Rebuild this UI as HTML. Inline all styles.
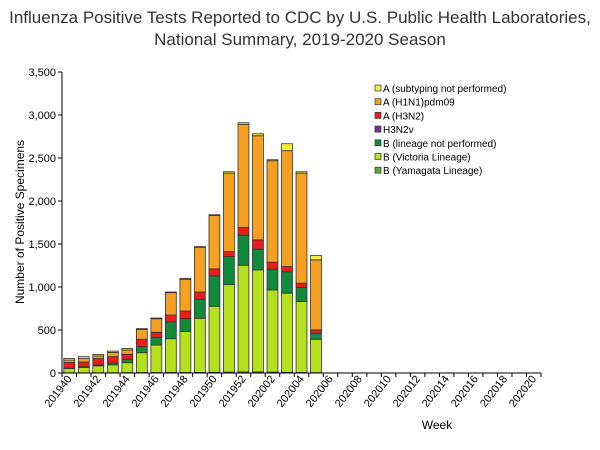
<!DOCTYPE html>
<html><head><meta charset="utf-8"><style>
body{margin:0;background:#fff;}
svg{display:block;font-family:"Liberation Sans",sans-serif;}
</style></head><body>
<svg id="chart" width="600" height="450">
<text x="300" y="23" text-anchor="middle" font-size="17" fill="#333">Influenza Positive Tests Reported to CDC by U.S. Public Health Laboratories,</text>
<text x="300" y="45" text-anchor="middle" font-size="17" fill="#333">National Summary, 2019-2020 Season</text>
<text transform="translate(24,222) rotate(-90)" text-anchor="middle" font-size="12" fill="#000">Number of Positive Specimens</text>
<text x="437" y="429" text-anchor="middle" font-size="12" fill="#000">Week</text>
<g id="grid"></g><g id="bars"></g><g id="axes"></g><g id="legend"></g>
</svg>
<script>
const weeks=["201940","201941","201942","201943","201944","201945","201946","201947","201948","201949","201950","201951","201952","202001","202002","202003","202004","202005","202006","202007","202008","202009","202010","202011","202012","202013","202014","202015","202016","202017","202018","202019","202020"];
const yamagata=[2,2,3,3,4,5,5,6,6,7,8,10,12,12,10,8,6,4];
const victoria=[50,63,80,92,116,231,320,393,478,629,768,1018,1241,1187,956,920,825,388];
const bNotPerf=[5,8,10,20,40,70,90,194,148,221,353,326,350,241,241,248,163,70];
const h3n2v=[0,0,0,0,0,0,0,0,0,0,0,0,0,0,0,0,0,0];
const h3n2=[66,55,75,75,58,86,58,81,89,85,82,58,89,108,82,62,50,39];
const h1n1=[27,40,30,50,50,116,158,260,369,520,621,912,1200,1211,1179,1347,1280,815];
const aUnsub=[19,22,18,15,16,8,8,8,11,8,8,16,18,23,12,81,16,50];
const yTicks=[0,500,1000,1500,2000,2500,3000,3500];
const yTickLabels=["0","500","1,000","1,500","2,000","2,500","3,000","3,500"];
const seriesNames=["A (subtyping not performed)","A (H1N1)pdm09","A (H3N2)","H3N2v","B (lineage not performed)","B (Victoria Lineage)","B (Yamagata Lineage)"];
const NS="http://www.w3.org/2000/svg";
const X0=62,X1=541,Y0=373,Y1=72,YMAX=3500;
const slot=(X1-X0)/weeks.length;
const y=v=>Y0-(v/YMAX)*(Y0-Y1);
const x=i=>X0+i*slot;
function mk(t,a,p){const e=document.createElementNS(NS,t);for(const k in a)e.setAttribute(k,a[k]);p.appendChild(e);return e;}
const colors=["#f5ef3d","#f5a020","#ec1c1c","#7030a0","#128a3c","#b4e01c","#5fa82a"];
const stack=[yamagata,victoria,bNotPerf,h3n2v,h3n2,h1n1,aUnsub];
const stackColors=[colors[6],colors[5],colors[4],colors[3],colors[2],colors[1],colors[0]];
const stackNames=["yamagata","victoria","b-not-performed","h3n2v","h3n2","h1n1","a-unsubtyped"];
const bars=document.getElementById('bars');
for(let i=0;i<yamagata.length;i++){
  let cum=0;
  for(let s=0;s<stack.length;s++){
    const v=stack[s][i];if(!v){continue;}
    const r=mk('rect',{x:x(i)+1.8,y:y(cum+v),width:slot-3.6,height:y(cum)-y(cum+v),fill:stackColors[s],stroke:"#333","stroke-width":0.8},bars);
    
    
    cum+=v;
  }
}
const axes=document.getElementById('axes');
const ya=mk('line',{x1:X0,y1:Y1,x2:X0,y2:Y0,stroke:"#000","stroke-width":1},axes);


const xa=mk('line',{x1:X0,y1:Y0,x2:X1,y2:Y0,stroke:"#000","stroke-width":1},axes);


yTicks.forEach((t,k)=>{
  mk('line',{x1:X0-4,y1:y(t),x2:X0,y2:y(t),stroke:"#000"},axes);
  const tx=mk('text',{x:X0-6,y:y(t)+4,"text-anchor":"end","font-size":11},axes);
  tx.textContent=yTickLabels[k];
  
  
});
weeks.forEach((w,i)=>{
  mk('line',{x1:x(i),y1:Y0,x2:x(i),y2:Y0+4,stroke:"#000"},axes);
  if(i%2===0){
    const cx=x(i)+slot/2;
    const tx=mk('text',{transform:`translate(${cx+3},${Y0+6}) rotate(-52)`,"text-anchor":"end","font-size":11},axes);
    tx.textContent=w;
    
    
  }
});
mk('line',{x1:X1,y1:Y0,x2:X1,y2:Y0+4,stroke:"#000"},axes);
const lg=document.getElementById('legend');
seriesNames.forEach((n,k)=>{
  const yy=89+k*13.7;
  const g=mk('g',{},lg);
  
  
  mk('rect',{x:375,y:yy-4,width:6,height:6,fill:colors[k],stroke:"#333","stroke-width":0.7},g);
  const t=mk('text',{x:383,y:yy+3,"font-size":10,fill:"#000"},g);
  t.textContent=n;
});
</script>
</body></html>
